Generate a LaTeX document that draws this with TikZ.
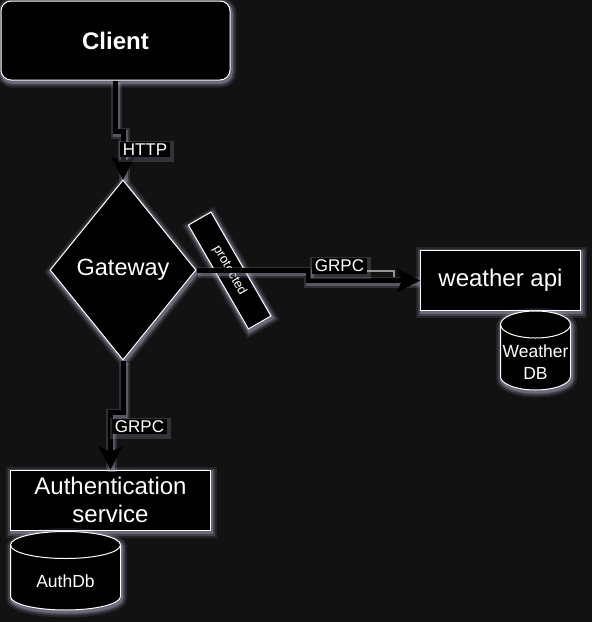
\documentclass[tikz,border=0pt]{standalone}
\usepackage{fontspec}
\setmainfont{Liberation Sans}
\usetikzlibrary{shapes.geometric,arrows.meta}
\definecolor{bg}{RGB}{18,18,18}
\definecolor{glowc}{RGB}{180,180,210}
\definecolor{thinc}{RGB}{150,150,150}
\newcommand\dbcyl[5]{% x0 x1 ytop ybot ry
 \pgfmathsetmacro\cxa{(#1+#2)/2}%
 \pgfmathsetmacro\rxa{(#2-#1)/2}%
 \pgfmathsetmacro\kxa{0.5523*\rxa}%
 \pgfmathsetmacro\kya{0.5523*#5}%
 \pgfmathsetmacro\yta{#3+#5}%
 \pgfmathsetmacro\yba{#4-#5}%
 \path[draw=white, fill=black, line width=1pt, glow] (#1,\yta) -- (#1,\yba) .. controls (#1,\yba+\kya) and (\cxa-\kxa,#4) .. (\cxa,#4) .. controls (\cxa+\kxa,#4) and (#2,\yba+\kya) .. (#2,\yba) -- (#2,\yta) .. controls (#2,\yta-\kya) and (\cxa+\kxa,#3) .. (\cxa,#3) .. controls (\cxa-\kxa,#3) and (#1,\yta-\kya) .. (#1,\yta) -- cycle;
 \draw[white, line width=1pt] (#1,\yta) .. controls (#1,\yta+\kya) and (\cxa-\kxa,\yta+#5) .. (\cxa,\yta+#5) .. controls (\cxa+\kxa,\yta+#5) and (#2,\yta+\kya) .. (#2,\yta);
}
\begin{document}
\begin{tikzpicture}[x=1pt,y=-1pt,
  glowpath/.style={draw=glowc, transform canvas={shift={(1pt,-2pt)}}},
  glow/.style={
    preaction={glowpath, draw opacity=0.12, line width=11pt},
    preaction={glowpath, draw opacity=0.2, line width=7pt},
    preaction={glowpath, draw opacity=0.35, line width=3.5pt}},
  shapebox/.style={draw=white, fill=black, text=white, line width=1pt, inner sep=0pt, glow},
  edgeline/.style={draw=black, line width=5pt,
    -{Stealth[length=23pt,width=24pt,inset=5pt,line width=0.5pt]},
    preaction={arrows=-, draw=glowc, draw opacity=0.18, line width=11pt, transform canvas={shift={(1pt,-2pt)}}},
    preaction={arrows=-, draw=glowc, draw opacity=0.3, line width=7pt, transform canvas={shift={(1pt,-2pt)}}}},
  lbl/.style={fill=black, text=white, font=\fontsize{17}{20}\selectfont, inner xsep=2.5pt, inner ysep=1.5pt,
    preaction={glowpath, draw opacity=0.2, line width=6pt}},
  dbtext/.style={text=white, align=center, font=\fontsize{17.5}{22}\selectfont, inner sep=0pt}
]
\useasboundingbox (0,0) rectangle (592,622);
\fill[bg] (0,0) rectangle (592,622);

% nodes
\node[shapebox, rounded corners=10pt, minimum width=229pt, minimum height=79pt,
      font=\bfseries\fontsize{24}{29}\selectfont] (client) at (115.5,40.5) {Client};
\node[shapebox, diamond, minimum width=146pt, minimum height=180pt,
      font=\fontsize{23.5}{28}\selectfont] (gw) at (123,270) {Gateway};
\node[shapebox, minimum width=160pt, minimum height=60pt,
      font=\fontsize{24}{29}\selectfont] (wapi) at (500.5,280.5) {weather api};
\node[shapebox, minimum width=200pt, minimum height=60pt, align=center,
      font=\fontsize{24}{28.8}\selectfont] (auth) at (110.5,500) {Authentication\\service};
\node[shapebox, rotate=-60, minimum width=120pt, minimum height=26pt,
      font=\fontsize{13}{15}\selectfont] (prot) at (229.7,270.5) {protected};

% databases
\dbcyl{500.5}{570.5}{311}{390}{13.5}
\node[dbtext] (wdb) at (535.5,362) {Weather\\DB};
\dbcyl{10.5}{120.5}{531.5}{610}{13.5}
\node[dbtext] (adb) at (65.5,581) {AuthDb};

% connectors
\draw[edgeline] (client.south) -- (client.south |- 0,131) -| (gw.north);
\draw[edgeline] (gw.east) -- (gw.east -| 308,0) |- (wapi.west);
\draw[edgeline] (gw.south) -- (gw.south |- 0,412) -| (auth.north);

% labels
\node[lbl] (http) at (145,149.5) {HTTP};
\node[lbl] (grpc1) at (339.5,266) {GRPC};
\node[lbl] (grpc2) at (139.5,426.5) {GRPC};
\coordinate (g1) at (394,277);
\draw[draw=thinc, line width=1.2pt] (grpc1.east |- 0,271) -| (g1);
\end{tikzpicture}
\end{document}
